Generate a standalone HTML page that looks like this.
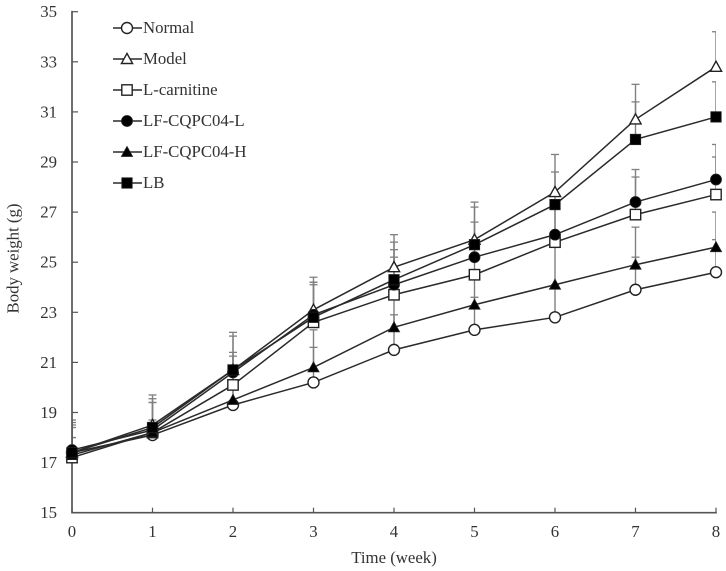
<!DOCTYPE html>
<html lang="en">
<head>
<meta charset="utf-8">
<title>Body weight over time</title>
<style>
html,body{margin:0;padding:0;background:#fff;}
svg{display:block;filter:blur(0.35px);}
text{font-family:"Liberation Serif",serif;fill:#333;font-size:16.8px;}
</style>
</head>
<body>
<svg id="chart" xmlns="http://www.w3.org/2000/svg" width="726" height="571" viewBox="0 0 726 571">
  <defs><clipPath id="plot-clip"><rect x="72" y="0" width="644" height="520"/></clipPath></defs>
  <rect width="726" height="571" fill="#fff"/>
  <text transform="translate(18.5,258.5) rotate(-90)" text-anchor="middle">Body weight (g)</text>
  <text x="394" y="563" text-anchor="middle">Time (week)</text>
</svg>
<script>
var weeks = [0, 1, 2, 3, 4, 5, 6, 7, 8];
var yTicks = [15, 17, 19, 21, 23, 25, 27, 29, 31, 33, 35];

var normalValues = [17.4, 18.1, 19.3, 20.2, 21.5, 22.3, 22.8, 23.9, 24.6];
var modelValues = [17.4, 18.5, 20.7, 23.1, 24.8, 25.9, 27.8, 30.7, 32.8];
var carnitineValues = [17.2, 18.2, 20.1, 22.6, 23.7, 24.5, 25.8, 26.9, 27.7];
var cqpcLowValues = [17.5, 18.3, 20.6, 22.9, 24.1, 25.2, 26.1, 27.4, 28.3];
var cqpcHighValues = [17.3, 18.2, 19.5, 20.8, 22.4, 23.3, 24.1, 24.9, 25.6];
var lbValues = [17.4, 18.4, 20.7, 22.8, 24.3, 25.7, 27.3, 29.9, 30.8];

var normalErrors = [0.6, 0.5, 1.2, 1.4, 1.4, 1.3, 1.3, 1.3, 1.3];
var modelErrors = [1.3, 1.2, 1.5, 1.3, 1.3, 1.5, 1.5, 1.4, 1.4];
var carnitineErrors = [1.2, 1.2, 1.15, 1.5, 1.5, 1.2, 1.4, 1.5, 1.5];
var cqpcLowErrors = [1.0, 1.1, 0.8, 1.3, 1.4, 1.4, 1.2, 1.3, 1.4];
var cqpcHighErrors = [0.7, 0.5, 1.0, 1.5, 1.6, 1.2, 1.7, 1.5, 1.4];
var lbErrors = [1.2, 1.15, 1.35, 1.4, 1.5, 1.5, 1.3, 1.5, 1.4];

var seriesNames = ["Normal", "Model", "L-carnitine", "LF-CQPC04-L", "LF-CQPC04-H", "LB"];
var seriesKeys = ["normal", "model", "l-carnitine", "lf-cqpc04-l", "lf-cqpc04-h", "lb"];
var seriesValues = [normalValues, modelValues, carnitineValues, cqpcLowValues, cqpcHighValues, lbValues];
var seriesErrors = [normalErrors, modelErrors, carnitineErrors, cqpcLowErrors, cqpcHighErrors, lbErrors];
var seriesShapes = ["circle-open", "triangle-open", "square-open", "circle-solid", "triangle-solid", "square-solid"];

var svg = document.getElementById('chart');
var NS = 'http://www.w3.org/2000/svg';
var AXIS = '#555';
var LINE = '#2a2a2a';
var ERR = '#808080';

function xScale(w) { return 72 + w * 80.5; }
function yScale(v) { return 512.7 - (v - 15) * 25.05; }

function make(tag, attrs, parent) {
  var el = document.createElementNS(NS, tag);
  for (var k in attrs) { el.setAttribute(k, attrs[k]); }
  (parent || svg).appendChild(el);
  return el;
}

function drawMarker(shape, cx, cy, parent) {
  var solid = shape.indexOf('solid') >= 0;
  var style = { fill: solid ? '#000' : '#fff', stroke: '#222', 'stroke-width': solid ? 0.8 : 1.4 };
  var m;
  if (shape.indexOf('circle') === 0) {
    m = make('circle', Object.assign({ cx: cx, cy: cy, r: 5.5 }, style), parent);
  } else if (shape.indexOf('square') === 0) {
    m = make('rect', Object.assign({ x: cx - 5.2, y: cy - 5.2, width: 10.4, height: 10.4 }, style), parent);
  } else {
    var pts = (cx - 5.6) + ',' + (cy + 4.5) + ' ' + (cx + 5.6) + ',' + (cy + 4.5) + ' ' + cx + ',' + (cy - 5.6);
    m = make('polygon', Object.assign({ points: pts }, style), parent);
  }
  return m;
}

// error bars, clipped at the plot edges
var errorLayer = make('g', { 'clip-path': 'url(#plot-clip)' });


seriesValues.forEach(function (vals, s) {
  vals.forEach(function (v, i) {
    var x = xScale(weeks[i]);
    var top = yScale(v + seriesErrors[s][i]);
    var stem = make('line', { x1: x, x2: x, y1: yScale(v), y2: top, stroke: ERR, 'stroke-width': 1.4 }, errorLayer);
    
    
    var cap = make('line', { x1: x - 4, x2: x + 4, y1: top, y2: top, stroke: ERR, 'stroke-width': 1.3 }, errorLayer);
    
    
  });
});

// axes
var axes = make('g', {});


var yAxisLine = make('line', { x1: 72, x2: 72, y1: yScale(35) - 0.8, y2: yScale(15) + 0.8, stroke: AXIS, 'stroke-width': 1.7 }, axes);


var xAxisLine = make('line', { x1: 72, x2: xScale(8) + 0.8, y1: yScale(15), y2: yScale(15), stroke: AXIS, 'stroke-width': 1.7 }, axes);



yTicks.forEach(function (t) {
  var y = yScale(t);
  var tick = make('line', { x1: 72, x2: 78, y1: y, y2: y, stroke: AXIS, 'stroke-width': 1.2 }, axes);
  
  
  var lab = make('text', { x: 57, y: y + 5.5, 'text-anchor': 'end' }, axes);
  lab.textContent = String(t);
  
  
});
weeks.forEach(function (w) {
  var x = xScale(w);
  var tick = make('line', { x1: x, x2: x, y1: yScale(15), y2: yScale(15) - 5, stroke: AXIS, 'stroke-width': 1.2 }, axes);
  
  
  var lab = make('text', { x: x, y: 537, 'text-anchor': 'middle' }, axes);
  lab.textContent = String(w);
  
  
});

// series
seriesValues.forEach(function (vals, s) {
  var g = make('g', {});
  
  
  var pts = vals.map(function (v, i) { return xScale(weeks[i]) + ',' + yScale(v); }).join(' ');
  var line = make('polyline', { points: pts, fill: 'none', stroke: LINE, 'stroke-width': 1.5 }, g);
  
  
  vals.forEach(function (v, i) {
    var m = drawMarker(seriesShapes[s], xScale(weeks[i]), yScale(v), g);
    
    
  });
});

// legend
var legend = make('g', {});


seriesNames.forEach(function (name, s) {
  var y = 28 + s * 31;
  var entry = make('g', {}, legend);
  
  
  var sw = make('line', { x1: 113, x2: 142, y1: y, y2: y, stroke: LINE, 'stroke-width': 1.5 }, entry);
  
  
  var mk = drawMarker(seriesShapes[s], 127, y, entry);
  
  
  var tx = make('text', { x: 143, y: y + 5 }, entry);
  tx.textContent = name;
  
  
});
</script>
</body>
</html>
